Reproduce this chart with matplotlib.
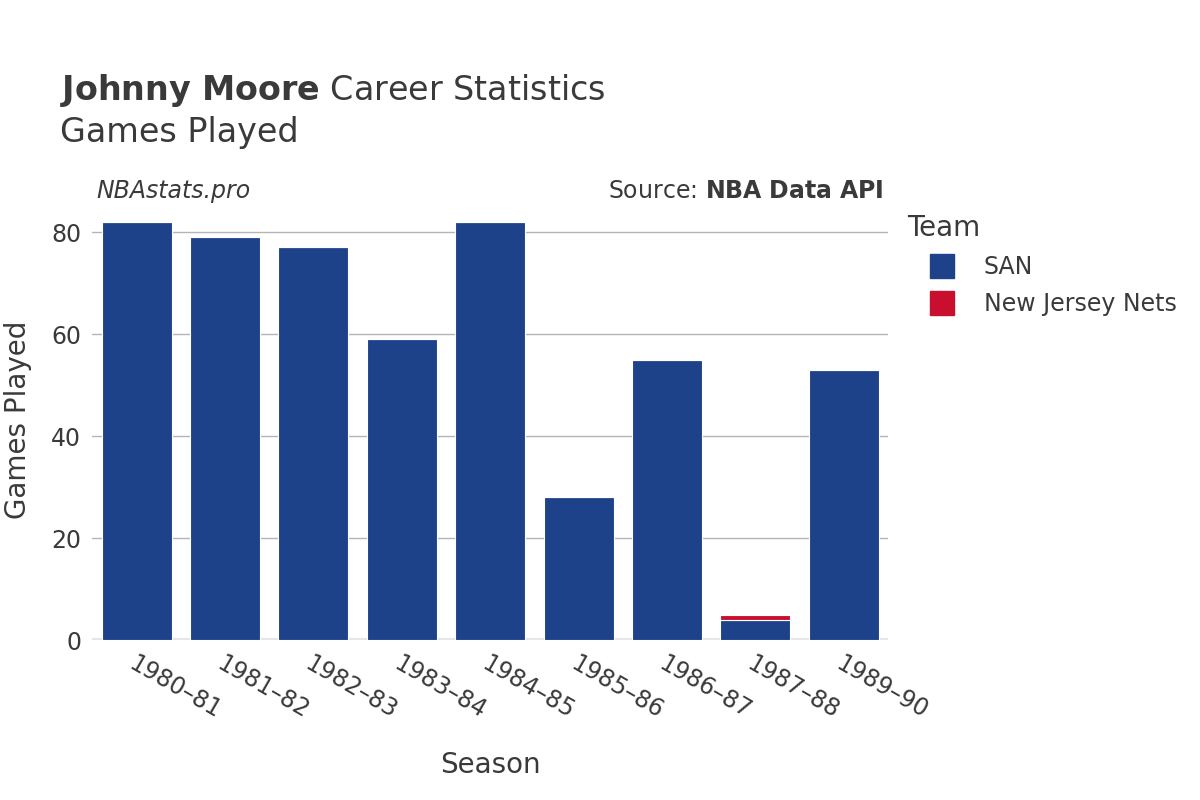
import matplotlib.pyplot as plt
from matplotlib.lines import Line2D
import numpy as np

# Data
seasons = ['1980–81', '1981–82', '1982–83', '1983–84', '1984–85',
           '1985–86', '1986–87', '1987–88', '1989–90']
san_games = [82, 79, 77, 59, 82, 28, 55, 4, 53]
njn_games = [0, 0, 0, 0, 0, 0, 0, 1, 0]
teams = ['SAN', 'New Jersey Nets']

san_color = '#1d428a'
njn_color = '#c8102e'
text_color = '#3a3a3a'

plt.rcParams['font.family'] = ['DejaVu Sans']

fig = plt.figure(figsize=(12, 8), dpi=100)
ax = fig.add_axes([0.077, 0.2, 0.663, 0.55])

x = np.arange(len(seasons))
ax.bar(x, san_games, width=0.79, color=san_color, edgecolor='white',
       linewidth=0.8, zorder=3)
ax.bar(x, njn_games, width=0.79, bottom=san_games, color=njn_color,
       edgecolor='white', linewidth=0.8, zorder=3)

ax.set_xlim(-0.5, len(seasons) - 0.5)
ax.set_ylim(0, 86.3)
ax.set_yticks([0, 20, 40, 60, 80])
ax.set_xticks(x)
ax.set_xticklabels(seasons, rotation=-30, ha='left', rotation_mode='anchor')
ax.tick_params(axis='both', length=0, labelsize=17, colors=text_color)
ax.tick_params(axis='x', pad=8)
ax.tick_params(axis='y', pad=8)

ax.grid(axis='y', color='#b4b4b4', linewidth=1, zorder=0)
ax.axhline(0, color='#e6e6e6', linewidth=3, zorder=2)
for s in ax.spines.values():
    s.set_visible(False)

ax.set_xlabel('Season', fontsize=20, color=text_color, labelpad=20)
ax.set_ylabel('Games Played', fontsize=20, color=text_color, labelpad=14)

# Titles and annotations
fig.text(0.05, 0.875, r'$\bf{Johnny\ Moore}$ Career Statistics', fontsize=24,
         color=text_color, va='baseline')
fig.text(0.05, 0.822, 'Games Played', fontsize=24, color=text_color,
         va='baseline')
ax.text(0.005, 1.02, 'NBAstats.pro', transform=ax.transAxes, fontsize=17,
        style='italic', color=text_color, va='center')
ax.text(0.995, 1.02, r'Source: $\bf{NBA\ Data\ API}$', transform=ax.transAxes,
        fontsize=17, color=text_color, va='center', ha='right')

handles = [Line2D([], [], marker='s', linestyle='', markersize=17,
                  markerfacecolor=c, markeredgecolor=c)
           for c in [san_color, njn_color]]
leg = ax.legend(handles, teams, loc='upper left', bbox_to_anchor=(0.997, 1.016),
                frameon=False, title='Team', fontsize=17, title_fontsize=20,
                handlelength=3.0, handletextpad=0.25, labelspacing=0.55)
leg._legend_box.align = 'left'
for t in leg.get_texts():
    t.set_color(text_color)
leg.get_title().set_color(text_color)

fig.savefig('out.png')
